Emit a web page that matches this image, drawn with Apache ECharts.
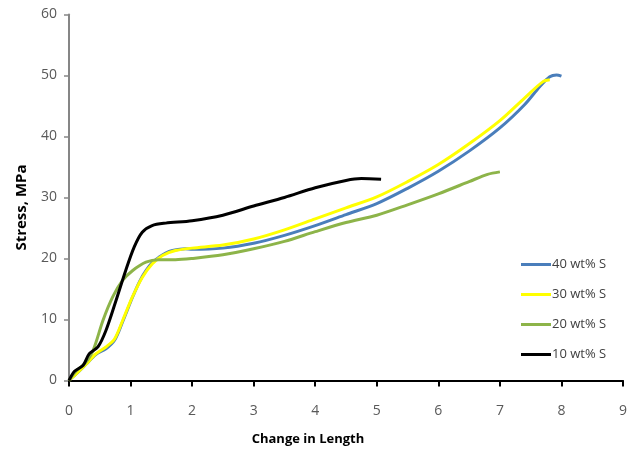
<!DOCTYPE html>
<html>
<head>
<meta charset="utf-8">
<script src="https://cdn.jsdelivr.net/npm/echarts@6/dist/echarts.min.js"></script>
<style>html,body{margin:0;padding:0;background:#fff}#c{width:630px;height:453px}</style>
</head>
<body>
<div id="c"></div>
<script>
var seriesNames = ['40 wt% S', '30 wt% S', '20 wt% S', '10 wt% S'];
var xTicks = [0, 1, 2, 3, 4, 5, 6, 7, 8, 9];
var yTicks = [0, 10, 20, 30, 40, 50, 60];

var s40 = [[0,0],[0.12,1.1],[0.28,2.7],[0.44,4.3],[0.6,5.2],[0.74,6.6],[0.87,9.6],[1.03,13.6],[1.15,16.3],[1.25,18.0],[1.36,19.4],[1.46,20.2],[1.57,20.9],[1.68,21.3],[1.89,21.6],[2.0,21.5],[2.5,21.7],[3.0,22.5],[3.5,23.8],[4.0,25.4],[4.5,27.2],[5.0,29.0],[5.5,31.5],[6.0,34.3],[6.5,37.6],[7.0,41.4],[7.4,45.2],[7.65,48.2],[7.81,49.8],[7.92,50.1],[8.0,49.9]];
var s30 = [[0,0],[0.12,1.1],[0.28,2.7],[0.44,4.4],[0.6,5.5],[0.74,6.8],[0.87,9.8],[1.03,13.7],[1.19,16.9],[1.35,19.1],[1.52,20.5],[1.73,21.3],[2.0,21.7],[2.5,22.2],[3.0,23.2],[3.5,24.7],[4.0,26.5],[4.5,28.3],[5.0,30.1],[5.5,32.6],[6.0,35.4],[6.5,38.8],[7.0,42.6],[7.4,46.3],[7.7,49.0],[7.81,49.3]];
var s20 = [[0,0],[0.12,1.6],[0.25,2.7],[0.39,4.9],[0.55,9.8],[0.71,13.7],[0.87,16.4],[1.03,18.0],[1.25,19.4],[1.46,19.8],[1.73,19.8],[2.0,20.0],[2.5,20.6],[3.0,21.6],[3.5,22.8],[4.0,24.4],[4.5,25.9],[5.0,27.1],[5.5,28.8],[6.0,30.6],[6.5,32.6],[6.8,33.8],[7.0,34.2]];
var s10 = [[0,0],[0.09,1.5],[0.23,2.5],[0.33,4.4],[0.47,5.5],[0.6,8.2],[0.76,13.0],[0.92,18.0],[1.06,21.9],[1.19,24.3],[1.35,25.4],[1.57,25.8],[2.0,26.2],[2.5,27.1],[3.0,28.6],[3.5,30.0],[4.0,31.6],[4.5,32.8],[4.75,33.1],[5.07,33.0]];

var colors = ['#4A7EBB', '#FFFF00', '#8DB449', '#000000'];
var dataSets = [s40, s30, s20, s10];
var FONT = "'Open Sans',sans-serif";

var chart = echarts.init(document.getElementById('c'), null, {renderer: 'canvas'});
chart.setOption({
  animation: false,
  backgroundColor: '#fff',
  grid: {left: 69, right: 3, top: 14.5, bottom: 72.5, containLabel: false},
  legend: {
    orient: 'vertical',
    left: 516, top: 253,
    icon: 'rect', itemWidth: 30, itemHeight: 3, itemGap: 17,
    data: seriesNames,
    textStyle: {color: '#404040', fontSize: 13, fontFamily: FONT, padding: [0,0,0,-4]}
  },
  xAxis: {
    type: 'value', min: xTicks[0], max: xTicks[xTicks.length-1], interval: 1,
    name: 'Change in Length', nameLocation: 'middle', nameGap: 52,
    nameTextStyle: {color: '#000', fontWeight: 'bold', fontSize: 13, fontFamily: FONT, padding: [0, 76, 0, 0]},
    axisLine: {show: true, onZero: false, lineStyle: {color: '#000', width: 2}},
    axisTick: {show: true, inside: false, length: 6, lineStyle: {color: '#000', width: 2}},
    axisLabel: {color: '#595959', fontSize: 14, fontFamily: FONT, margin: 24},
    splitLine: {show: false}
  },
  yAxis: {
    type: 'value', min: yTicks[0], max: yTicks[yTicks.length-1], interval: 10,
    name: 'Stress, MPa', nameLocation: 'middle', nameGap: 40,
    nameTextStyle: {color: '#000', fontWeight: 'bold', fontSize: 15, fontFamily: FONT, padding: [0, 20, 0, 0]},
    axisLine: {show: true, lineStyle: {color: '#868686', width: 2}},
    axisTick: {show: true, inside: false, length: 5, lineStyle: {color: '#868686', width: 1.5}},
    axisLabel: {color: '#595959', fontSize: 14, fontFamily: FONT, margin: 12},
    splitLine: {show: false}
  },
  series: dataSets.map(function (d, i) {
    return {
      name: seriesNames[i], type: 'line', data: d, smooth: 0.3,
      showSymbol: false, symbol: 'none',
      lineStyle: {color: colors[i], width: 3},
      itemStyle: {color: colors[i]}
    };
  })
});
</script>
</body>
</html>
